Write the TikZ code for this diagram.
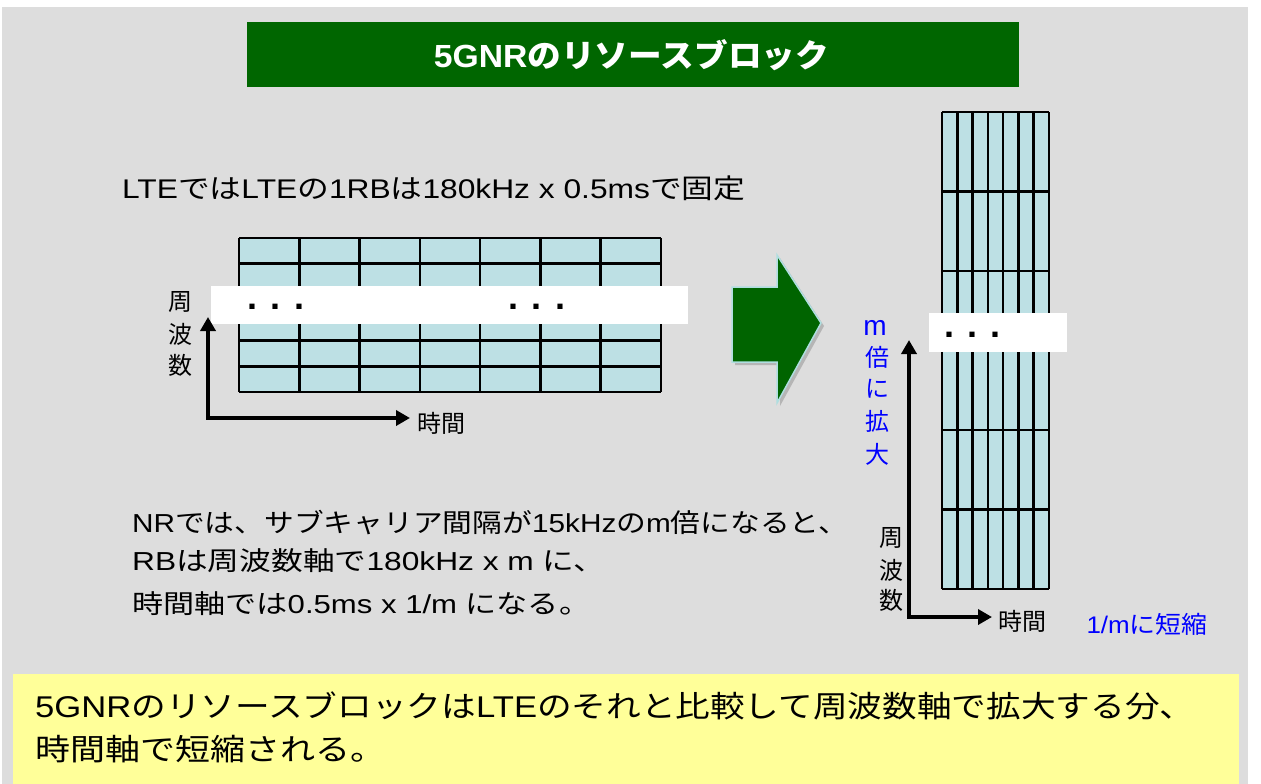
\documentclass[tikz,border=0pt]{standalone}
\usepackage{fontspec}
\usepackage{graphicx}
\setmainfont{Noto Sans CJK JP}
\newfontfamily\ar{Liberation Sans}
\usetikzlibrary{arrows.meta}
\definecolor{bggray}{RGB}{221,221,221}
\definecolor{titlegreen}{RGB}{0,102,0}
\definecolor{cellfill}{RGB}{189,224,228}
\definecolor{notey}{RGB}{255,255,153}
\definecolor{arrowgreen}{RGB}{0,100,0}
\definecolor{arrowedge}{RGB}{175,222,224}
\definecolor{lblblue}{RGB}{0,0,255}
\newcommand{\fitw}[2]{\resizebox{#1}{\height}{#2}}
\newcommand{\fs}[1]{\fontsize{#1}{#1}\selectfont}
\tikzset{
  txt/.style={inner sep=0pt, anchor=base west, text=black},
  lbl/.style={inner sep=0pt, font=\fs{24}},
  gridline/.style={line width=2.5pt, black},
  band/.style={fill=white},
  dots/.style={inner sep=0pt, anchor=base, font=\ar\bfseries\fs{36}},
  axisline/.style={line width=4.5pt, line join=miter,
    {Triangle[length=14pt,width=15pt]}-{Triangle[length=14pt,width=15pt]}},
}
\begin{document}
\begin{tikzpicture}[x=1pt,y=-1pt]
\useasboundingbox (0,0) rectangle (1261,784);
\fill[white] (0,0) rectangle (1261,784);
\fill[bggray] (2,7) rectangle (1248,784);

% title
\fill[titlegreen] (247,22) rectangle (1019,87);
\node[inner sep=0pt, anchor=base, text=white] (title) at (631.5,67)
  {\fitw{395pt}{\fs{32}\bfseries{\ar 5GNR}のリソースブロック}};

% LTE text
\node[txt] (ltetext) at (122,198)
  {\fitw{623pt}{\fs{27}{\ar LTE}では{\ar LTE}の{\ar 1RB}は{\ar 180kHz x 0.5ms}で固定}};

% left grid
\fill[cellfill] (239,238) rectangle (661,392);
\foreach \i in {0,...,7} \draw[gridline] ({239+\i*60.2857},238) -- ({239+\i*60.2857},392);
\foreach \j in {0,...,6} \draw[gridline] (239,{238+\j*25.6667}) -- (661,{238+\j*25.6667});
\fill[band] (211,286) rectangle (688,324);
\node[dots] (ldots1) at (276,309) {. . .};
\node[dots] (ldots2) at (537,309) {. . .};

% left axes
\coordinate (lt) at (208,317);
\coordinate (lo) at (208,418);
\coordinate (lr) at (410,418);
\draw[axisline] (lt) -- (lo) -- (lr);
\node[lbl] (lf1) at (180,302) {周};
\node[lbl] (lf2) at (180,334) {波};
\node[lbl] (lf3) at (180,365) {数};
\node[lbl] (ltime) at (441,423) {時間};

% green arrow
\fill[black, opacity=0.18] (735,290) -- (780,290) -- (780,258) -- (824,326) -- (780,406) -- (780,365) -- (735,365) -- cycle;
\filldraw[fill=arrowgreen, draw=arrowedge, line width=1.5pt, line join=miter]
  (732,287) -- (777,287) -- (777,255) -- (821,323) -- (777,403) -- (777,362) -- (732,362) -- cycle;

% right grid
\fill[cellfill] (942,112) rectangle (1049,589);
\foreach \i in {0,...,7} \draw[gridline] ({942+\i*15.2857},112) -- ({942+\i*15.2857},589);
\foreach \j in {0,...,6} \draw[gridline] (942,{112+\j*79.5}) -- (1049,{112+\j*79.5});
\fill[band] (929,313) rectangle (1067,352);
\node[dots] (rdots) at (972.5,337) {. . .};

% right axes
\coordinate (rt) at (909,340);
\coordinate (ro) at (909,617);
\coordinate (rr) at (992,617);
\draw[axisline] (rt) -- (ro) -- (rr);
\node[lbl] (rf1) at (891,538) {周};
\node[lbl] (rf2) at (891,570) {波};
\node[lbl] (rf3) at (891,600) {数};
\node[lbl] (rtime) at (1022,621) {時間};
\node[lbl, text=lblblue] (shrink) at (1147,624) {\fitw{121pt}{{\ar 1/m}に短縮}};
\node[lbl, text=lblblue, anchor=base] (bm) at (875,335) {\ar\fs{28}m};
\node[lbl, text=lblblue] (b1) at (877,357) {倍};
\node[lbl, text=lblblue] (b2) at (877,389) {に};
\node[lbl, text=lblblue] (b3) at (877,421) {拡};
\node[lbl, text=lblblue] (b4) at (877,454) {大};

% NR text
\node[txt] (nr1) at (132,532)
  {\fitw{716pt}{\fs{26}{\ar NR}では、サブキャリア間隔が{\ar 15kHz}の{\ar m}倍になると、}};
\node[txt] (nr2) at (132,570)
  {\fitw{473pt}{\fs{26}{\ar RB}は周波数軸で{\ar 180kHz x m }に、}};
\node[txt] (nr3) at (132,613)
  {\fitw{458pt}{\fs{26}時間軸では{\ar 0.5ms x 1/m }になる。}};

% summary box
\fill[notey] (13,674) rectangle (1239,784);
\node[txt] (sum1) at (35,717)
  {\fitw{1159pt}{\fs{30}{\ar 5GNR}のリソースブロックは{\ar LTE}のそれと比較して周波数軸で拡大する分、}};
\node[txt] (sum2) at (35,760)
  {\fitw{350pt}{\fs{30}時間軸で短縮される。}};
\end{tikzpicture}
\end{document}
